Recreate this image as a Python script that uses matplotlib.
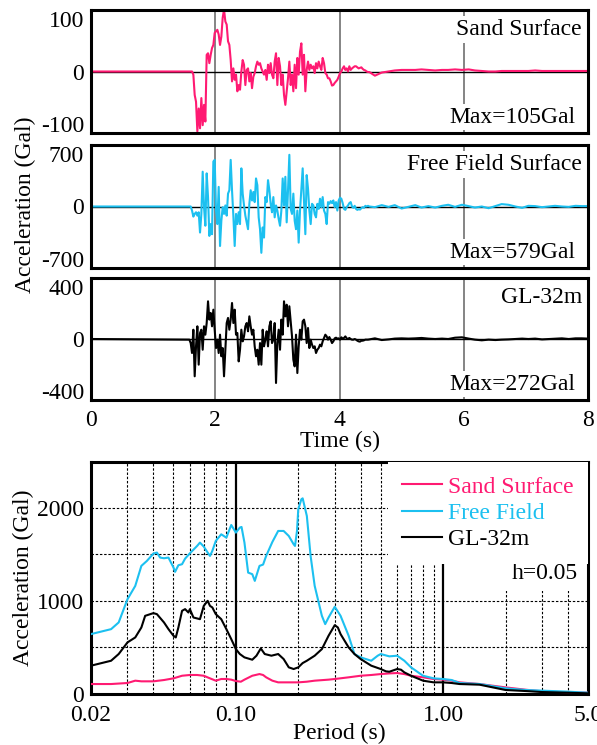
import numpy as np
import matplotlib
matplotlib.use("Agg")
import matplotlib.pyplot as plt

# ---- time histories (Gal) ----
# dense part: samples every ~0.0215 s starting at 1.583 s
T0, DT = 1.5832, 0.02146
sand_active = [0, 0, 0, -6, -45, -58, -115, -71, -109, -51, -103, -64, -96, 32, 35, 16, 32, 45, 51, 74,
               77, 80, 71, 51, 67, 103, 119, 96, 90, 58, 51, 22, -19, 6, -16, -6, -38, -26, -35, 0,
               22, 13, -26, 3, 6, -19, -3, -32, -10, -3, 10, 19, 13, 16, 6, 0, -6, 3, -16, 13,
               -3, 16, -6, -13, 19, 35, -26, 26, 10, -26, -6, -45, -64, -38, -13, 19, -26, -6, -38, 13,
               -32, 26, -6, 38, 54, -6, 32, -38, 3, 19, 3, 13, 6, 10, -3, 16, 6, 19, 10, 3,
               26, 16, -3, -6, -13, -13, -19, -27, -26, -22, -19, -16, -10, -3, 0, 6, 10, 3, 6, 0,
               10, 3, 6, 8, 10, 10, 8, 6, 7, 8, 5, 3, 2, 0, -1, -1]
free_active = [0, 0, -54, -135, -99, -77, -122, -77, -348, -99, 465, -9, -257, 443, 126, -393, -235, -370, 601, 623,
               -54, -235, 262, -528, -190, -9, -99, 14, -122, 172, 217, 623, 217, -122, -528, -99, -235, -77, -235, 510,
               172, 14, -122, -212, -303, 36, 217, 81, 194, 59, 375, 285, -145, -303, -619, -280, -415, 126, 59, 352,
               217, 36, -77, 126, -145, 14, -54, -167, -257, -54, 375, 14, 397, -212, 217, 691, -32, -99, 172, -190,
               -303, -54, -483, -54, 217, 510, 81, -370, 420, 239, -54, -235, 36, 14, -99, -145, 36, -32, 104, -9,
               126, -54, -99, -235, 59, 36, 72, 45, 81, -9, 59, -54, 81, 117, 104, 45, -32, -45, -9, 14,
               45, 59, 0, -18, 9, -32, -45, -36, -41, -23, -9, -18, 9, 0, 9, 0]
gl_active = [-5, -31, -107, 71, -285, -56, 97, -196, 46, 71, -82, 97, 33, 122, 288, 148, 199, 97, 224, 71,
             -69, -5, -107, 33, -132, -69, -285, -82, 122, 161, 71, 148, 275, 122, 224, 33, 46, -171, -82, 71,
             -18, 20, 97, 122, 59, 173, 97, 33, 71, -56, -132, -82, -196, -31, -196, 71, -56, -5, 59, -56,
             97, 135, -31, -5, 122, -336, -31, 71, -82, 148, 33, 288, 173, 262, 97, 250, 135, 20, -158, -209,
             33, -260, -56, 71, -5, 135, 148, 97, -31, 84, -69, -5, -43, -69, -56, -107, -82, -69, -43, -56,
             -18, 8, 33, 20, -5, 15, -5, -31, -18, 5, 10, 3, 5, -5, 13, 3, 8, 20, 5, 0,
             8, 0, -5, -5, 0, -5, -13, -18, -20, -13, -13, -10, -5, -5, -5, -3]

t_tail = [4.57, 4.68, 4.79, 4.89, 5.00, 5.11, 5.22, 5.32, 5.43, 5.54, 5.65, 5.75, 5.86, 5.97, 6.08, 6.18, 6.29,
          6.40, 6.51, 6.61, 6.72, 6.83, 6.94, 7.04, 7.15, 7.26, 7.37, 7.47, 7.58, 7.69, 7.80, 7.90, 8.00]
sand_tail = [-8, -2, 0, 2, 3, 3, 3, 4, 3, 2, 3, 3, 4, 3, 4, 2, 1, 0, 0, 1, 1, 1, 1, 1, 2, 1, 1, 1, 1, 1, 1, 1, 1]
free_tail = [-9, 18, -5, 18, -27, -5, 18, -14, 5, -14, 9, 23, -5, 23, 5, -14, 0, -23, 5, 32, 23, 0, -18, 9, 5,
             -9, 0, 9, 0, -5, 9, 5, 5]
gl_tail = [5, -8, -3, 3, 5, 3, 5, 8, 3, 0, 3, 0, 10, 13, 3, -5, -10, -5, -8, -5, -3, 0, 3, 0, 3, -3, 0, 3, 5,
           0, 5, 5, 3]

# ---- response spectra (h=0.05) ----
per_sand = [0.02, 0.025, 0.03, 0.0327, 0.035, 0.04, 0.045, 0.05, 0.055, 0.06, 0.065, 0.07, 0.075, 0.08, 0.085,
            0.09, 0.095, 0.1, 0.1057, 0.11, 0.12, 0.13, 0.1353, 0.14, 0.15, 0.16, 0.18, 0.2, 0.22, 0.24, 0.28,
            0.3, 0.35, 0.4, 0.45, 0.5, 0.55, 0.6, 0.65, 0.7, 0.8, 0.9, 1.0, 1.1, 1.2, 1.5, 2.0, 2.5, 3.0, 4.0, 5.0]
sa_sand = [107, 107, 118, 143, 136, 136, 150, 168, 196, 204, 204, 196, 168, 143, 161, 161, 154, 139, 132, 154,
           196, 214, 204, 179, 143, 125, 125, 125, 132, 143, 154, 161, 179, 196, 204, 214, 221, 225, 214, 196,
           179, 161, 154, 143, 125, 107, 71, 46, 29, 18, 14]
per_free = [0.02, 0.025, 0.0272, 0.03, 0.0327, 0.035, 0.0372, 0.04, 0.0416, 0.0431, 0.045, 0.0473, 0.05, 0.0509,
            0.0528, 0.055, 0.0569, 0.06, 0.065, 0.0671, 0.07, 0.0731, 0.075, 0.077, 0.08, 0.085, 0.09, 0.0919,
            0.095, 0.0978, 0.1, 0.1045, 0.1065, 0.11, 0.1146, 0.12, 0.1234, 0.13, 0.1353, 0.14, 0.15, 0.16, 0.17,
            0.18, 0.19, 0.1929, 0.1972, 0.2, 0.2069, 0.21, 0.22, 0.2294, 0.24, 0.26, 0.2698, 0.28, 0.3, 0.32,
            0.35, 0.3734, 0.4, 0.45, 0.4834, 0.5, 0.55, 0.6, 0.65, 0.7, 0.8, 0.9, 1.0, 1.1, 1.2, 1.5, 2.0, 2.5,
            3.0, 4.0, 5.0]
sa_free = [643, 696, 768, 1018, 1160, 1375, 1428, 1507, 1518, 1464, 1457, 1464, 1357, 1311, 1382, 1393, 1453,
           1510, 1589, 1625, 1582, 1518, 1482, 1536, 1643, 1714, 1678, 1732, 1814, 1768, 1732, 1786, 1793, 1625,
           1303, 1286, 1214, 1375, 1389, 1482, 1632, 1750, 1750, 1696, 1607, 1589, 1750, 1982, 2089, 2100, 1911,
           1482, 1161, 839, 750, 821, 936, 839, 625, 429, 393, 357, 411, 429, 404, 411, 357, 286, 196, 168, 161,
           150, 118, 107, 61, 43, 36, 25, 14]
per_gl = [0.02, 0.025, 0.0272, 0.03, 0.0327, 0.035, 0.0365, 0.04, 0.0416, 0.045, 0.0473, 0.05, 0.0513, 0.0528,
          0.055, 0.0569, 0.059, 0.06, 0.0624, 0.065, 0.0671, 0.07, 0.0731, 0.075, 0.077, 0.08, 0.085, 0.09, 0.095,
          0.1, 0.1045, 0.11, 0.12, 0.1257, 0.1319, 0.1378, 0.1484, 0.16, 0.17, 0.18, 0.19, 0.2, 0.21, 0.22, 0.24,
          0.26, 0.28, 0.3, 0.3105, 0.32, 0.35, 0.3734, 0.4, 0.45, 0.5, 0.53, 0.55, 0.6, 0.626, 0.65, 0.7, 0.8,
          0.9, 1.0, 1.1, 1.2, 1.5, 2.0, 2.5, 3.0, 4.0, 5.0]
sa_gl = [304, 357, 429, 554, 607, 714, 839, 868, 857, 768, 696, 625, 607, 714, 893, 911, 875, 911, 821, 811, 803,
         946, 1000, 946, 929, 857, 803, 696, 589, 482, 429, 393, 368, 411, 489, 429, 411, 429, 375, 286, 268, 286,
         332, 357, 411, 482, 625, 739, 714, 643, 500, 429, 375, 304, 268, 243, 239, 268, 261, 232, 196, 143, 125,
         125, 118, 107, 100, 43, 32, 21, 14, 7]

PINK = "#ff1a72"
CYAN = "#1cc0f0"

plt.rcParams['font.family'] = ['Liberation Serif', 'DejaVu Serif']
plt.rcParams['font.size'] = 17

fig = plt.figure(figsize=(5.97, 7.45), dpi=100)
L, W = 91 / 597, 497 / 597


def frac(top, bottom):
    return [L, 1 - bottom / 745, W, (bottom - top) / 745]


panels = [
    (frac(10, 133), sand_active, sand_tail, PINK, 118, ["100", "0", "-100"], [100, 0, -100],
     "Sand Surface", "Max=105Gal"),
    (frac(145, 268), free_active, free_tail, CYAN, 822, ["700", "0", "-700"], [700, 0, -700],
     "Free Field Surface", "Max=579Gal"),
    (frac(278, 400), gl_active, gl_tail, "black", 466, ["400", "0", "-400"], [400, 0, -400],
     "GL-32m", "Max=272Gal"),
]

axes = []
for rect, act, tail, col, lim, ylabs, yt, name, mx in panels:
    ax = fig.add_axes(rect)
    t = np.concatenate([[0.0], T0 + DT * np.arange(len(act)), t_tail])
    v = np.concatenate([[0.0], act, tail])
    for tv in (2, 4, 6):
        ax.axvline(tv, color="#707070", lw=1.2, zorder=1)
    ax.axhline(0, color="black", lw=1.0, zorder=1)
    ax.plot(t, v, color=col, lw=1.5, zorder=2)
    ax.set_xlim(0, 8)
    ax.set_ylim(-lim, lim)
    ax.set_yticks(yt)
    ax.set_yticklabels(ylabs)
    ax.tick_params(length=0, pad=5)
    for s in ax.spines.values():
        s.set_linewidth(2.2)
    box = dict(facecolor="white", edgecolor="none", pad=2)
    ax.text(0.988, 0.84, name, transform=ax.transAxes, ha="right", va="center", bbox=box, zorder=5)
    ax.text(0.975, 0.13, mx, transform=ax.transAxes, ha="right", va="center", bbox=box, zorder=5)
    axes.append(ax)

for ax in axes[:2]:
    ax.set_xticks([0, 2, 4, 6, 8])
    ax.set_xticklabels([])
axes[2].set_xticks([0, 2, 4, 6, 8])
axes[2].tick_params(axis="x", pad=7)
axes[2].set_xlabel("Time (s)", labelpad=0)
fig.text(25 / 597, 1 - 205 / 745, "Acceleration (Gal)", rotation=90, ha="center", va="center")

# ---- spectrum panel ----
ax = fig.add_axes(frac(462, 694))
ax.set_xscale("log")
ax.set_xlim(0.02, 5.0)
ax.set_ylim(0, 2490)
dash = (0, (2.2, 1.6))
for g in [0.03, 0.04, 0.05, 0.06, 0.07, 0.08, 0.09, 0.2, 0.3, 0.4, 0.5, 0.6, 0.7, 0.8, 0.9, 2, 3, 4]:
    ax.axvline(g, color="black", lw=0.8, ls=dash, zorder=1)
for g in [500, 1000, 1500, 2000]:
    ax.axhline(g, color="black", lw=0.8, ls=dash, zorder=1)
for g in [0.1, 1.0]:
    ax.axvline(g, color="black", lw=1.6, zorder=1)
ax.plot(per_sand, sa_sand, color=PINK, lw=1.5, label="Sand Surface", zorder=3)
ax.plot(per_free, sa_free, color=CYAN, lw=1.5, label="Free Field", zorder=3)
ax.plot(per_gl, sa_gl, color="black", lw=1.5, label="GL-32m", zorder=3)
ax.set_xticks([0.02, 0.1, 1.0, 5.0])
ax.set_xticklabels(["0.02", "0.10", "1.00", "5.0"])
ax.set_xticks([], minor=True)
ax.set_yticks([0, 1000, 2000])
ax.set_yticklabels(["0", "1000", "2000"])
ax.tick_params(length=0, pad=5)
ax.tick_params(axis="x", pad=8)
for s in ax.spines.values():
    s.set_linewidth(2.2)
ax.set_xlabel("Period (s)", labelpad=-2)
fig.text(23 / 597, 1 - 578 / 745, "Acceleration (Gal)", rotation=90, ha="center", va="center")

leg = ax.legend(loc="upper right", handlelength=1.7, handletextpad=0.25, labelspacing=0.2,
                borderpad=0.6, borderaxespad=0.0, fancybox=False, framealpha=1)
leg.get_frame().set_edgecolor("none")
leg.set_zorder(5)
for txt, ln in zip(leg.get_texts(), leg.get_lines()):
    txt.set_color(ln.get_color())
ax.text(0.98, 0.52, "h=0.05", transform=ax.transAxes, ha="right", va="center",
        bbox=dict(facecolor="white", edgecolor="none", pad=5), zorder=5)

fig.savefig("out.png", dpi=100)
